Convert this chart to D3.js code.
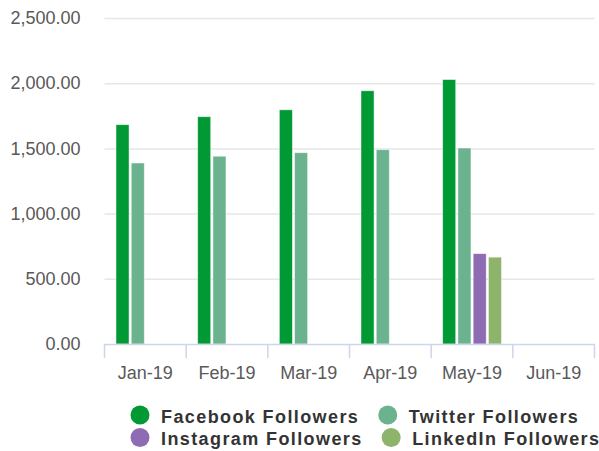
<!DOCTYPE html>
<html>
<head>
<meta charset="utf-8">
<script src="https://cdn.jsdelivr.net/npm/d3@7"></script>
<style>
  body { margin: 0; background: #fff; }
  svg { display: block; font-family: "Liberation Sans", Arial, sans-serif; }
</style>
</head>
<body>
<div id="chart"></div>
<script>
// data
var months = ["Jan-19", "Feb-19", "Mar-19", "Apr-19", "May-19", "Jun-19"];
var series = ["Facebook Followers", "Twitter Followers", "Instagram Followers", "LinkedIn Followers"];
var facebook = [1682, 1743, 1796, 1942, 2028, null];
var twitter = [1388, 1440, 1467, 1490, 1503, null];
var instagram = [null, null, null, null, 693, null];
var linkedin = [null, null, null, null, 666, null];
var yTicks = [0, 500, 1000, 1500, 2000, 2500];
var colors = ["#009933", "#6bb38e", "#8e6bb3", "#8eb36b"];

var values = [facebook, twitter, instagram, linkedin];

var width = 599, height = 451;
var plotLeft = 104.5, plotRight = 594.5, plotTop = 18, plotBottom = 344;

var svg = d3.select("#chart")
  .append("svg")
    .attr("width", width)
    .attr("height", height);

var x0 = d3.scaleBand()
  .domain(months)
  .range([plotLeft, plotRight]);

var x1 = d3.scaleBand()
  .domain(series)
  .range([11.5, 72.5]);

var y = d3.scaleLinear()
  .domain([0, 2500])
  .range([plotBottom, plotTop]);

// gridlines + y labels
var yAxis = svg.append("g")
  .attr("transform", "translate(" + plotLeft + ",0)")
  .call(d3.axisLeft(y)
    .tickValues(yTicks)
    .tickFormat(d3.format(",.2f"))
    .tickSize(-(plotRight - plotLeft))
    .tickPadding(24));
yAxis.select(".domain").remove();
yAxis.selectAll(".tick line")
  .attr("stroke", "#e6e6e6")
  .attr("stroke-width", 1.5)
  .filter(function(d) { return d === 0; }).remove();
yAxis.selectAll(".tick text")
  .attr("fill", "#595959")
  .style("font-size", "18px");

// bars
var bars = [];
values.forEach(function(vals, i) {
  vals.forEach(function(v, j) {
    if (v != null) bars.push({ month: months[j], name: series[i], value: v, color: colors[i] });
  });
});

svg.append("g")
  .selectAll("rect")
  .data(bars)
  .enter()
  .append("rect")
    .attr("x", function(d) { return x0(d.month) + x1(d.name); })
    .attr("y", function(d) { return y(d.value); })
    .attr("width", x1.bandwidth() - 2.2)
    .attr("height", function(d) { return y(0) - y(d.value); })
    .attr("fill", function(d) { return d.color; })
    .attr("stroke", "#ffffff")
    .attr("stroke-opacity", 0.6)
    .attr("stroke-width", 0.8);

// x axis
var xAxis = svg.append("g")
  .attr("transform", "translate(0," + plotBottom + ")")
  .call(d3.axisBottom(x0).tickSize(0).tickPadding(22));
xAxis.select(".domain")
  .attr("stroke", "#ccd6eb")
  .attr("stroke-width", 1.5);
xAxis.selectAll(".tick text")
  .attr("fill", "#595959")
  .style("font-size", "18px");

var edges = months.map(function(m) { return x0(m); }).concat([plotRight]);
xAxis.selectAll(".edge")
  .data(edges)
  .enter()
  .append("line")
    .attr("x1", function(d) { return d; })
    .attr("x2", function(d) { return d; })
    .attr("y1", 0)
    .attr("y2", 14)
    .attr("stroke", "#ccd6eb")
    .attr("stroke-width", 1.5);

// legend, two rows flowing left to right
var rows = [[0, 1], [2, 3]];
var legend = svg.append("g");
rows.forEach(function(row, r) {
  var cx = 140;
  var cy = 415 + r * 22.5;
  row.forEach(function(i) {
    legend.append("circle")
      .attr("cx", cx)
      .attr("cy", cy)
      .attr("r", 9.5)
      .attr("fill", colors[i]);
    var t = legend.append("text")
      .attr("x", cx + 21)
      .attr("y", cy + 7.5)
      .attr("fill", "#333333")
      .style("font-size", "18px")
      .style("font-weight", "bold")
      .style("letter-spacing", "1.4px")
      .text(series[i]);
    cx = cx + 21 + t.node().getComputedTextLength() + 28.5;
  });
});
</script>
</body>
</html>
